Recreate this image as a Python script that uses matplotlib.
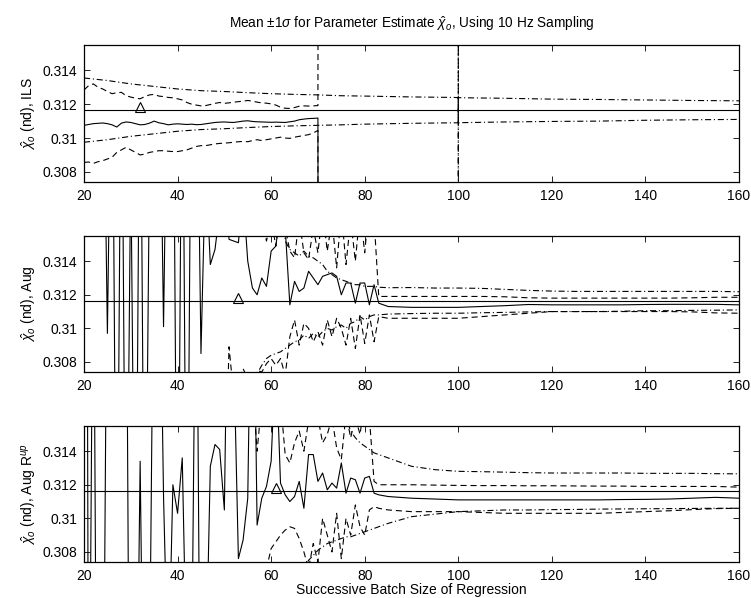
import matplotlib
matplotlib.use("Agg")
import matplotlib.pyplot as plt
import numpy as np

plt.rcParams['font.family'] = ['Liberation Sans', 'DejaVu Sans']
plt.rcParams['mathtext.fontset'] = 'custom'
plt.rcParams['mathtext.rm'] = 'Liberation Sans'
plt.rcParams['mathtext.it'] = 'Liberation Sans:italic'
plt.rcParams['mathtext.sf'] = 'Liberation Sans'

# ---------------- data ----------------
TRUE_VALUE = 0.31165
XLIM = (20, 160)
YLIM = (0.3074, 0.3155)
YTICKS = [0.308, 0.310, 0.312, 0.314]
YTICKLABELS = ['0.308', '0.31', '0.312', '0.314']
XTICKS = [20, 40, 60, 80, 100, 120, 140, 160]

# --- Panel 1: ILS ---
ils_x = list(range(20, 71)) + [71]
ils_mean = [0.31075, 0.31080, 0.31085, 0.31087, 0.31089, 0.31085, 0.31078, 0.31065, 0.31088, 0.31095,
            0.31092, 0.31085, 0.31078, 0.31080, 0.31088, 0.31100, 0.31090, 0.31085, 0.31078, 0.31082,
            0.31084, 0.31082, 0.31080, 0.31082, 0.31079, 0.31080, 0.31084, 0.31088, 0.31092, 0.31094,
            0.31095, 0.31093, 0.31092, 0.31096, 0.31100, 0.31102, 0.31098, 0.31096, 0.31095, 0.31094,
            0.31093, 0.31094, 0.31093, 0.31092, 0.31096, 0.31100, 0.31108, 0.31112, 0.31115, 0.31116,
            0.31118, 0.0]
ils_up = [0.31284, 0.31310, 0.31320, 0.31300, 0.31290, 0.31275, 0.31262, 0.31268, 0.31270, 0.31250,
          0.31242, 0.31236, 0.31232, 0.31245, 0.31255, 0.31258, 0.31248, 0.31245, 0.31240, 0.31238,
          0.31232, 0.31225, 0.31210, 0.31200, 0.31195, 0.31190, 0.31192, 0.31198, 0.31205, 0.31210,
          0.31205, 0.31208, 0.31212, 0.31215, 0.31218, 0.31222, 0.31218, 0.31212, 0.31208, 0.31206,
          0.31202, 0.31195, 0.31182, 0.31176, 0.31175, 0.31180, 0.31188, 0.31190, 0.31189, 0.31190,
          0.31192, 0.6]
ils_lo = [0.30856, 0.30858, 0.30850, 0.30860, 0.30866, 0.30876, 0.30886, 0.30915, 0.30930, 0.30945,
          0.30930, 0.30915, 0.30900, 0.30905, 0.30915, 0.30920, 0.30925, 0.30925, 0.30922, 0.30920,
          0.30920, 0.30925, 0.30930, 0.30940, 0.30950, 0.30955, 0.30955, 0.30960, 0.30965, 0.30968,
          0.30970, 0.30972, 0.30975, 0.30978, 0.30980, 0.30978, 0.30985, 0.30990, 0.30985, 0.30990,
          0.30995, 0.31000, 0.31005, 0.31000, 0.30998, 0.31005, 0.31010, 0.31015, 0.31020, 0.31030,
          0.31045, -0.6]
ils_th_x = [20, 25, 30, 35, 40, 45, 50, 55, 60, 65, 70, 75, 80, 90, 99, 100, 100, 100, 101, 110, 120, 130, 140, 150, 160]
ils_th_up = [0.31355, 0.31340, 0.31320, 0.31305, 0.31290, 0.31280, 0.31275, 0.31268, 0.31262, 0.31258,
             0.31255, 0.31250, 0.31248, 0.31243, 0.31240, 0.31239, 0.22, 0.31239, 0.31238, 0.31235,
             0.31230, 0.31228, 0.31225, 0.31222, 0.31220]
ils_th_lo = [0.30975, 0.30990, 0.31010, 0.31025, 0.31040, 0.31050, 0.31055, 0.31062, 0.31068, 0.31072,
             0.31075, 0.31078, 0.31082, 0.31087, 0.31090, 0.31090, 0.40, 0.31090, 0.31091, 0.31095,
             0.31098, 0.31100, 0.31105, 0.31108, 0.31110]
ils_marker = (32, 0.31183)

# --- Panels 2 and 3 share x samples: per-sample to 83, then sparse tail ---
batch_x = list(range(20, 84)) + [85, 90, 95, 100, 105, 110, 115, 120, 125, 130, 135, 140, 145, 150, 155, 160]

aug_mean = [0.330, 0.340, 0.330, 0.350, 0.330, 0.3097, 0.330, 0.290, 0.330, 0.290,
            0.320, 0.290, 0.330, 0.290, 0.320, 0.330, 0.330, 0.3101, 0.330, 0.330,
            0.290, 0.330, 0.290, 0.330, 0.330, 0.3085, 0.320, 0.3138, 0.3147, 0.3170,
            0.3190, 0.3153, 0.3152, 0.3151, 0.3180, 0.3140, 0.3124, 0.3120, 0.3130, 0.3125,
            0.3146, 0.3149, 0.3170, 0.3160, 0.3114, 0.3128, 0.3122, 0.3124, 0.3134, 0.3130,
            0.3126, 0.3131, 0.3132, 0.3133, 0.3131, 0.3120, 0.3127, 0.3127, 0.3115, 0.3127,
            0.3127, 0.3114, 0.3126, 0.3115,
            0.31130, 0.31125, 0.31125, 0.31125, 0.31130, 0.31135, 0.31142, 0.31140, 0.31140, 0.31140,
            0.31140, 0.31142, 0.31143, 0.31143, 0.31143, 0.31140]
aug_up = [0.330, 0.330, 0.330, 0.330, 0.330, 0.330, 0.330, 0.330, 0.330, 0.330,
          0.330, 0.330, 0.330, 0.330, 0.330, 0.330, 0.330, 0.330, 0.330, 0.330,
          0.330, 0.330, 0.330, 0.330, 0.330, 0.330, 0.330, 0.330, 0.330, 0.330,
          0.330, 0.330, 0.330, 0.330, 0.330, 0.330, 0.330, 0.330, 0.3165, 0.3152,
          0.3165, 0.3149, 0.3170, 0.3160, 0.3146, 0.3142, 0.3165, 0.3145, 0.3141, 0.3160,
          0.3145, 0.3170, 0.3146, 0.3165, 0.3136, 0.3170, 0.3138, 0.3165, 0.3140, 0.3170,
          0.3145, 0.3175, 0.3165, 0.3119,
          0.31190, 0.31190, 0.31190, 0.31190, 0.31190, 0.31188, 0.31182, 0.31180, 0.31180, 0.31180,
          0.31180, 0.31180, 0.31180, 0.31182, 0.31185, 0.31185]
aug_lo = [0.290, 0.290, 0.290, 0.290, 0.290, 0.290, 0.290, 0.290, 0.290, 0.290,
          0.290, 0.290, 0.290, 0.290, 0.290, 0.290, 0.290, 0.290, 0.290, 0.290,
          0.290, 0.290, 0.290, 0.290, 0.290, 0.290, 0.290, 0.290, 0.290, 0.290,
          0.2990, 0.3089, 0.3060, 0.3070, 0.3076, 0.3070, 0.3065, 0.3075, 0.3074, 0.3079,
          0.3082, 0.3078, 0.3082, 0.3072, 0.3095, 0.3105, 0.3090, 0.3103, 0.3100, 0.3092,
          0.3098, 0.3090, 0.3105, 0.3095, 0.3106, 0.3100, 0.3090, 0.3106, 0.3088, 0.3108,
          0.3091, 0.3108, 0.3092, 0.3107,
          0.31060, 0.31060, 0.31060, 0.31060, 0.31070, 0.31080, 0.31090, 0.31100, 0.31100, 0.31100,
          0.31100, 0.31100, 0.31100, 0.31098, 0.31092, 0.31090]
aug_th_up = [0.330, 0.330, 0.330, 0.330, 0.330, 0.330, 0.330, 0.330, 0.330, 0.330,
             0.330, 0.330, 0.330, 0.330, 0.330, 0.330, 0.330, 0.330, 0.330, 0.330,
             0.330, 0.330, 0.330, 0.330, 0.330, 0.330, 0.330, 0.330, 0.330, 0.330,
             0.330, 0.330, 0.330, 0.330, 0.330, 0.330, 0.330, 0.330, 0.330, 0.330,
             0.330, 0.330, 0.330, 0.3152, 0.3147, 0.3145, 0.3143, 0.3146, 0.3143, 0.3142,
             0.3140, 0.3138, 0.3134, 0.3132, 0.3130, 0.3129, 0.3128, 0.3127, 0.3126, 0.3126,
             0.3125, 0.3125, 0.3125, 0.31245,
             0.31242, 0.31243, 0.31240, 0.31240, 0.31238, 0.31232, 0.31226, 0.31222, 0.31220, 0.31220,
             0.31220, 0.31220, 0.31220, 0.31220, 0.31220, 0.31218]
aug_th_lo = [0.290, 0.290, 0.290, 0.290, 0.290, 0.290, 0.290, 0.290, 0.290, 0.290,
             0.290, 0.290, 0.290, 0.290, 0.290, 0.290, 0.290, 0.290, 0.290, 0.290,
             0.290, 0.290, 0.290, 0.290, 0.290, 0.290, 0.290, 0.290, 0.290, 0.290,
             0.290, 0.290, 0.290, 0.290, 0.290, 0.290, 0.290, 0.3073, 0.3078, 0.3082,
             0.3084, 0.3085, 0.3086, 0.3088, 0.3090, 0.3092, 0.3093, 0.3096, 0.3094, 0.3097,
             0.3095, 0.3098, 0.3100, 0.3099, 0.3101, 0.3102, 0.3100, 0.3103, 0.3104, 0.3107,
             0.3105, 0.3107, 0.3108, 0.3108,
             0.31085, 0.31088, 0.31090, 0.31090, 0.31093, 0.31095, 0.31098, 0.31100, 0.31100, 0.31100,
             0.31102, 0.31105, 0.31105, 0.31107, 0.31108, 0.31110]
aug_marker = (53, 0.31183)

rup_mean = [0.400, 0.290, 0.330, 0.280, 0.290, 0.330, 0.330, 0.340, 0.320, 0.330,
            0.280, 0.290, 0.3134, 0.290, 0.300, 0.330, 0.330, 0.3113, 0.300, 0.3120,
            0.3103, 0.3136, 0.300, 0.300, 0.330, 0.290, 0.300, 0.3131, 0.3144, 0.3141,
            0.3105, 0.330, 0.320, 0.3076, 0.3087, 0.3112, 0.330, 0.3096, 0.3112, 0.3119,
            0.3134, 0.3200, 0.3121, 0.3114, 0.3110, 0.3113, 0.3122, 0.3106, 0.3138, 0.3138,
            0.3122, 0.3127, 0.3117, 0.3121, 0.3118, 0.3133, 0.3115, 0.3124, 0.3123, 0.3115,
            0.3124, 0.3125, 0.3115, 0.3114,
            0.31130, 0.31120, 0.31115, 0.31110, 0.31110, 0.31110, 0.31110, 0.31110, 0.31110, 0.31110,
            0.31112, 0.31113, 0.31115, 0.31120, 0.31125, 0.31120]
rup_up = [0.330, 0.330, 0.330, 0.330, 0.330, 0.330, 0.330, 0.330, 0.330, 0.330,
          0.330, 0.330, 0.330, 0.330, 0.330, 0.330, 0.330, 0.330, 0.330, 0.330,
          0.330, 0.330, 0.330, 0.330, 0.330, 0.330, 0.330, 0.330, 0.330, 0.330,
          0.330, 0.330, 0.330, 0.330, 0.330, 0.330, 0.3180, 0.3140, 0.3170, 0.3160,
          0.3175, 0.3165, 0.3170, 0.3138, 0.3133, 0.3145, 0.3152, 0.3140, 0.3158, 0.3165,
          0.3160, 0.3145, 0.3150, 0.3160, 0.3142, 0.3135, 0.3162, 0.3148, 0.3160, 0.3150,
          0.3170, 0.3160, 0.3122, 0.3120,
          0.31200, 0.31200, 0.31198, 0.31196, 0.31195, 0.31195, 0.31194, 0.31194, 0.31193, 0.31192,
          0.31192, 0.31190, 0.31190, 0.31190, 0.31190, 0.31186]
rup_lo = [0.290, 0.290, 0.290, 0.290, 0.290, 0.290, 0.290, 0.290, 0.290, 0.290,
          0.290, 0.290, 0.290, 0.290, 0.290, 0.290, 0.290, 0.290, 0.290, 0.290,
          0.290, 0.290, 0.290, 0.290, 0.290, 0.290, 0.290, 0.290, 0.290, 0.290,
          0.290, 0.290, 0.290, 0.290, 0.290, 0.290, 0.290, 0.290, 0.3050, 0.3070,
          0.3082, 0.3086, 0.3090, 0.3093, 0.3095, 0.3094, 0.3088, 0.3080, 0.3070, 0.3085,
          0.3074, 0.3100, 0.3090, 0.3080, 0.3103, 0.3076, 0.3100, 0.3090, 0.3108, 0.3095,
          0.3090, 0.3105, 0.3107, 0.3106,
          0.31050, 0.31040, 0.31040, 0.31040, 0.31035, 0.31030, 0.31030, 0.31030, 0.31030, 0.31030,
          0.31035, 0.31040, 0.31045, 0.31052, 0.31058, 0.31060]
rup_th_up = [0.330, 0.330, 0.330, 0.330, 0.330, 0.330, 0.330, 0.330, 0.330, 0.330,
             0.330, 0.330, 0.330, 0.330, 0.330, 0.330, 0.330, 0.330, 0.330, 0.330,
             0.330, 0.330, 0.330, 0.330, 0.330, 0.330, 0.330, 0.330, 0.330, 0.330,
             0.330, 0.330, 0.330, 0.330, 0.330, 0.330, 0.330, 0.330, 0.330, 0.330,
             0.330, 0.330, 0.330, 0.330, 0.330, 0.330, 0.330, 0.330, 0.330, 0.330,
             0.330, 0.330, 0.330, 0.330, 0.330, 0.330, 0.3160, 0.3152, 0.3148, 0.3145,
             0.3143, 0.3141, 0.3139, 0.3138,
             0.31360, 0.31310, 0.31290, 0.31280, 0.31278, 0.31275, 0.31272, 0.31270, 0.31270, 0.31270,
             0.31270, 0.31268, 0.31268, 0.31268, 0.31266, 0.31265]
rup_th_lo = [0.290, 0.290, 0.290, 0.290, 0.290, 0.290, 0.290, 0.290, 0.290, 0.290,
             0.290, 0.290, 0.290, 0.290, 0.290, 0.290, 0.290, 0.290, 0.290, 0.290,
             0.290, 0.290, 0.290, 0.290, 0.290, 0.290, 0.290, 0.290, 0.290, 0.290,
             0.290, 0.290, 0.290, 0.290, 0.290, 0.290, 0.290, 0.290, 0.290, 0.290,
             0.290, 0.290, 0.290, 0.290, 0.290, 0.290, 0.290, 0.3070, 0.3075, 0.3078,
             0.3081, 0.3083, 0.3085, 0.3086, 0.3087, 0.3088, 0.3089, 0.3089, 0.3090, 0.3091,
             0.3092, 0.3093, 0.3094, 0.3095,
             0.30970, 0.31010, 0.31025, 0.31040, 0.31045, 0.31050, 0.31050, 0.31052, 0.31053, 0.31055,
             0.31056, 0.31057, 0.31058, 0.31059, 0.31060, 0.31060]
rup_marker = (61, 0.31180)

TITLE = r'Mean $\pm$1$\sigma$ for Parameter Estimate $\hat{\chi}_o$, Using 10 Hz Sampling'
YLABELS = [r'$\hat{\chi}_o$ (nd), ILS', r'$\hat{\chi}_o$ (nd), Aug', r'$\hat{\chi}_o$ (nd), Aug R$^{up}$']
XLABEL = 'Successive Batch Size of Regression'

# ---------------- drawing ----------------
W, H = 751, 598
fig = plt.figure(figsize=(W / 100, H / 100), dpi=100)

def frac(left, top, right, bottom):
    return [left / W, 1 - bottom / H, (right - left) / W, (bottom - top) / H]

axes_px = [(84, 45, 739, 182), (84, 236, 739, 372), (84, 426, 739, 562)]
axs = [fig.add_axes(frac(*p)) for p in axes_px]

DASH = (0, (5.5, 3.5))
DASHDOT = (0, (5.5, 2.5, 1.0, 2.5))
LW = 0.8

panels = [
    (ils_x, ils_mean, ils_x, ils_up, ils_lo, ils_th_x, ils_th_up, ils_th_lo, ils_marker),
    (batch_x, aug_mean, batch_x, aug_up, aug_lo, batch_x, aug_th_up, aug_th_lo, aug_marker),
    (batch_x, rup_mean, batch_x, rup_up, rup_lo, batch_x, rup_th_up, rup_th_lo, rup_marker),
]

for i, (ax, pan) in enumerate(zip(axs, panels)):
    mx, my, sx, su, sl, tx, tu, tl, mk = pan
    ax.plot(XLIM, [TRUE_VALUE, TRUE_VALUE], color='black', lw=LW)
    ax.plot(mx, my, color='black', lw=LW)
    ax.plot(sx, su, color='black', lw=LW, linestyle=DASH)
    ax.plot(sx, sl, color='black', lw=LW, linestyle=DASH)
    ax.plot(tx, tu, color='black', lw=LW, linestyle=DASHDOT)
    ax.plot(tx, tl, color='black', lw=LW, linestyle=DASHDOT)
    ax.plot([mk[0]], [mk[1]], marker='^', markersize=7.5, markerfacecolor='none',
            markeredgecolor='black', markeredgewidth=0.8, linestyle='none')
    ax.set_xlim(XLIM)
    ax.set_ylim(YLIM)
    ax.set_xticks(XTICKS)
    ax.set_xticklabels([str(t) for t in XTICKS])
    ax.set_yticks(YTICKS)
    ax.set_yticklabels(YTICKLABELS)
    ax.tick_params(direction='in', top=True, right=True, length=4.5, width=0.6,
                   labelsize=10, pad=5)
    for s in ax.spines.values():
        s.set_linewidth(0.9)
    ax.set_ylabel(YLABELS[i], fontsize=10, labelpad=3)

axs[0].set_title(TITLE, fontsize=9.8, pad=12)
axs[2].set_xlabel(XLABEL, fontsize=10, labelpad=0)

fig.savefig('out.png', dpi=100)
